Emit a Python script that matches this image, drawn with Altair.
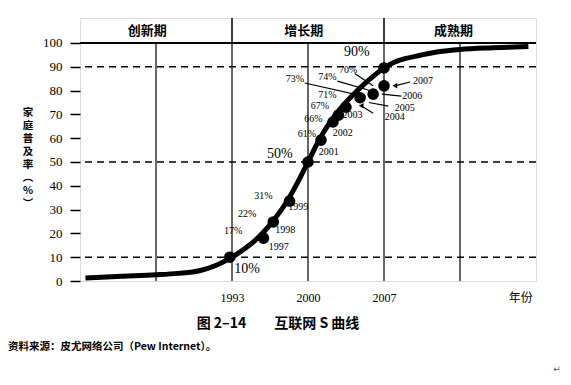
import altair as alt
import pandas as pd

# S-curve (year, household penetration %)
curve_year = [1979.5, 1983, 1986, 1988, 1990, 1991.5, 1993, 1994, 1995, 1996, 1997, 1998,
              1999, 2000, 2001, 2002, 2003, 2004, 2005, 2006, 2007, 2008, 2009, 2010,
              2011, 2012, 2014, 2017, 2020.3]
curve_pct = [1.3, 2.0, 2.6, 3.2, 4.3, 6.5, 10, 13, 16.5, 21, 26.5, 33,
             41, 50, 59, 66.5, 72.5, 77.5, 82, 86, 89.5, 92, 93.5, 94.5,
             95.5, 96.3, 97.3, 98, 98.5]

# observed points (as drawn)
dot_year = [1992.8, 1995.9, 1996.8, 1998.3, 2000, 2001.2, 2002.3, 2002.8, 2003.5,
            2004.8, 2006.0, 2007, 2007]
dot_pct = [10, 18, 24.8, 33.6, 50, 59.2, 66.8, 69.7, 73, 77, 78.5, 82, 89.5]

# annotations
small_text = ["17%", "22%", "31%", "1997", "1998", "1999", "61%", "2001", "66%", "2002",
              "67%", "2003", "71%", "73%", "74%", "70%", "2004", "2005", "2006", "2007"]
small_year = [1993.1, 1994.4, 1995.9, 1997.3, 1997.9, 1999.1, 1999.9, 2001.9, 2000.5, 2003.2,
              2001.1, 2004.1, 2001.8, 1998.8, 2001.8, 2003.7, 2008.0, 2008.9, 2009.6, 2010.6]
small_pct = [21.0, 28.2, 35.7, 14.3, 21.4, 31.1, 61.8, 54.2, 68.1, 62.2,
             73.5, 69.7, 78.2, 84.9, 85.7, 88.5, 68.9, 72.7, 77.7, 84.0]

big_text = ["10%", "50%", "90%"]
big_year = [1994.4, 1997.4, 2004.5]
big_pct = [5.0, 53.4, 96.2]

# leader lines (from label to point)
lead_x1 = [1999.7, 2002.7, 2004.3, 2008.6, 2007.4, 2006.0, 2009.4]
lead_y1 = [83.2, 84.0, 87.2, 77.7, 73.5, 70.5, 83.6]
lead_x2 = [2005.3, 2006.1, 2006.0, 2006.8, 2005.6, 2004.9, 2008.0]
lead_y2 = [77.5, 79.5, 82.0, 78.5, 75.0, 73.6, 82.0]
arrow_x = [2008.0, 2004.9]
arrow_y = [82.0, 73.6]

phases = ["创新期", "增长期", "成熟期"]
phase_year = [1985.2, 1999.6, 2013.4]

grid_years = [1986, 1993, 2000, 2007, 2014]
header_sep_years = [1993, 2007]
dash_levels = [10, 50, 90]
x_labels = [1993, 2000, 2007]
y_ticks = [0, 10, 20, 30, 40, 50, 60, 70, 80, 90, 100]

W, H = 456, 263
XD = [1979, 2021]
YD = [0, 110.5]
xs = alt.Scale(domain=XD, nice=False, zero=False)
ys = alt.Scale(domain=YD, nice=False, zero=False)
SERIF = "Liberation Serif"
CJK = "Noto Sans CJK SC"

AX = alt.Axis(values=x_labels, format="d", ticks=False, grid=False, domain=False,
              title=None, labelFont=SERIF, labelFontSize=12, labelColor="black",
              labelPadding=11, labelOverlap=False, labelFlush=False)
AY = alt.Axis(values=y_ticks, grid=False, domain=False, title=None,
              tickSize=10, tickColor="black", tickWidth=1.5,
              labelFont=SERIF, labelFontSize=13, labelColor="black",
              labelPadding=8, labelOverlap=False, labelFlush=False)


def X(f):
    return alt.X(f, scale=xs, axis=AX, title=None)


def Y(f):
    return alt.Y(f, scale=ys, axis=AY, title=None)


curve_df = pd.DataFrame({"year": curve_year, "pct": curve_pct})
dot_df = pd.DataFrame({"year": dot_year, "pct": dot_pct})
small_df = pd.DataFrame({"t": small_text, "year": small_year, "pct": small_pct})
big_df = pd.DataFrame({"t": big_text, "year": big_year, "pct": big_pct})
lead_df = pd.DataFrame({"x1": lead_x1, "y1": lead_y1, "x2": lead_x2, "y2": lead_y2})
arrow_df = pd.DataFrame({"year": arrow_x, "pct": arrow_y})
phase_df = pd.DataFrame({"t": phases, "year": phase_year, "pct": [105.2] * 3})
grid_df = pd.DataFrame({"year": grid_years, "lo": [0] * 5, "hi": [100] * 5})
sep_df = pd.DataFrame({"year": header_sep_years, "lo": [100] * 2, "hi": [110.5] * 2})
dash_df = pd.DataFrame({"pct": dash_levels})
top_df = pd.DataFrame({"pct": [100]})

curve = alt.Chart(curve_df).mark_line(color="black", strokeWidth=5, interpolate="monotone").encode(
    x=X("year:Q"), y=Y("pct:Q"))
grid = alt.Chart(grid_df).mark_rule(color="black", strokeWidth=1.2).encode(
    x=X("year:Q"), y=Y("lo:Q"), y2="hi:Q")
seps = alt.Chart(sep_df).mark_rule(color="black", strokeWidth=1.5).encode(
    x=X("year:Q"), y=Y("lo:Q"), y2="hi:Q")
top = alt.Chart(top_df).mark_rule(color="black", strokeWidth=2).encode(y=Y("pct:Q"))
dashes = alt.Chart(dash_df).mark_rule(color="black", strokeWidth=1.5, strokeDash=[7, 5]).encode(
    y=Y("pct:Q"))
dots = alt.Chart(dot_df).mark_circle(color="black", size=135, opacity=1).encode(
    x=X("year:Q"), y=Y("pct:Q"))
leads = alt.Chart(lead_df).mark_rule(color="black", strokeWidth=1.2).encode(
    x=X("x1:Q"), y=Y("y1:Q"), x2="x2:Q", y2="y2:Q")
arrows = alt.Chart(arrow_df).mark_point(shape="triangle-left", filled=True, color="black",
                                        size=30, opacity=1).encode(x=X("year:Q"), y=Y("pct:Q"))
small = alt.Chart(small_df).mark_text(font=SERIF, fontSize=10, color="black").encode(
    x=X("year:Q"), y=Y("pct:Q"), text="t:N")
big = alt.Chart(big_df).mark_text(font=SERIF, fontSize=14, color="black").encode(
    x=X("year:Q"), y=Y("pct:Q"), text="t:N")
phase = alt.Chart(phase_df).mark_text(font=CJK, fontSize=13, fontWeight="bold", color="black").encode(
    x=X("year:Q"), y=Y("pct:Q"), text="t:N")

year_lbl = alt.Chart(pd.DataFrame({"year": [2019.6], "t": ["年份"]})).mark_text(
    font=CJK, fontSize=12, color="black").encode(
    x=X("year:Q"), y=alt.value(H + 17), text="t:N")
ytitle = alt.Chart(pd.DataFrame({"t": ["家\n庭\n普\n及\n率\n︵\n%\n︶"]})).mark_text(
    font=CJK, fontSize=10.5, fontWeight="bold", color="black", lineBreak="\n", lineHeight=13,
    baseline="top").encode(x=alt.value(-52), y=alt.value(90), text="t:N")
caption = alt.Chart(pd.DataFrame({"t": ["图 2–14\u3000\u3000互联网 S 曲线"]})).mark_text(
    font=CJK, fontSize=14, fontWeight="bold", color="black").encode(
    x=alt.value(198), y=alt.value(306), text="t:N")
source = alt.Chart(pd.DataFrame({"t": ["资料来源：皮尤网络公司（Pew Internet）。"]})).mark_text(
    font=CJK, fontSize=10.5, fontWeight="bold", color="black", align="left").encode(
    x=alt.value(-72), y=alt.value(329), text="t:N")
mark = alt.Chart(pd.DataFrame({"t": ["↵"]})).mark_text(
    font="DejaVu Sans", fontSize=9, color="#555").encode(
    x=alt.value(477), y=alt.value(351), text="t:N")

chart = alt.layer(curve, grid, seps, top, dashes, leads, arrows, dots, small, big, phase,
                  year_lbl, ytitle, caption, source, mark).properties(
    width=W, height=H,
    autosize=alt.AutoSizeParams(type="none"),
    padding={"left": 72, "top": 10, "right": 27, "bottom": 100},
).configure_view(stroke="black", strokeWidth=2).configure(background="white")

chart.save("out.html", embed_options={"renderer": "svg", "actions": False})
